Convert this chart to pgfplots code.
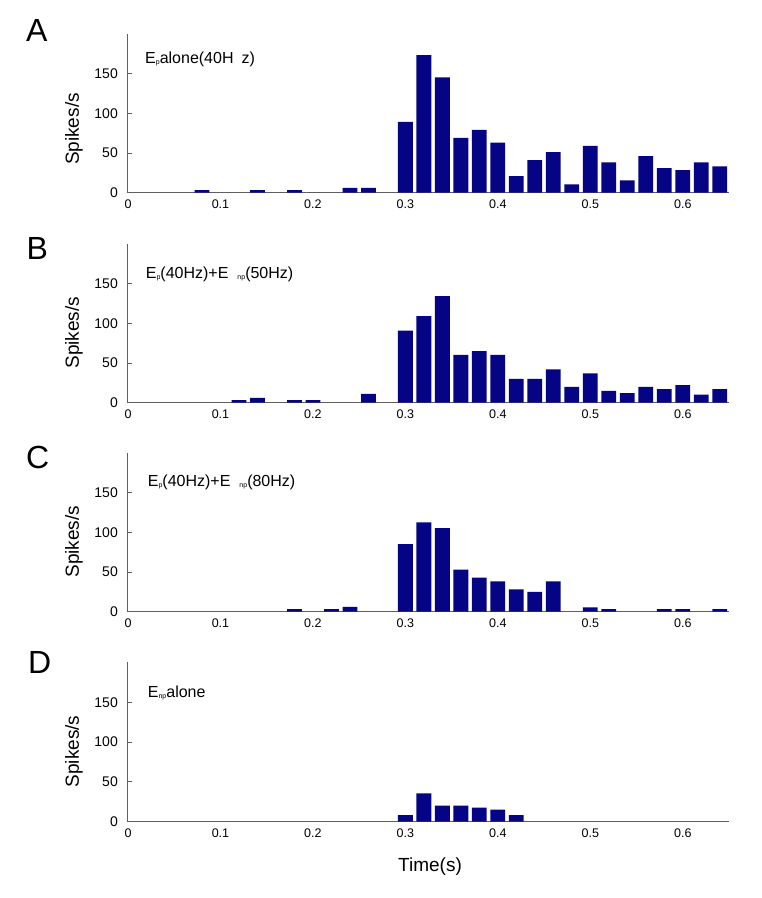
\documentclass[border=0pt]{standalone}
\usepackage{pgfplots}
\pgfplotsset{compat=1.18}
\usepackage{fontspec}
\setmainfont{Liberation Sans}

\definecolor{barblue}{RGB}{4,4,132}
\definecolor{axgray}{RGB}{95,95,95}

\pgfplotsset{
  panel/.style 2 args={
    at={(128pt,#1)}, anchor=south west,
    scale only axis, width=601pt, height=159pt,
    xmin=0, xmax=0.65, ymin=0, ymax=200,
    axis lines*=left,
    axis line style={axgray, line width=1pt},
    xtick={0,0.1,0.2,0.3,0.4,0.5,0.6},
    xticklabels={0,0.1,0.2,0.3,0.4,0.5,0.6},
    ytick={0,50,100,150},
    yticklabels={0,50,100,150},
    /pgf/number format/assume math mode=true,
    tick align=inside, major tick length=4pt,
    ytick style={axgray, line width=0.8pt},
    xtick style={draw=none},
    xticklabel style={font=\fontsize{12.5}{12.5}\selectfont, anchor=center, inner sep=0pt, yshift=-11.5pt},
    yticklabel style={font=\fontsize{14}{14}\selectfont, anchor=east, inner sep=0pt, xshift=-10pt},
    ylabel={Spikes/s},
    ylabel style={at={(axis description cs:-0.09,#2)}, anchor=center, inner sep=0pt,
      font=\fontsize{19}{19}\selectfont},
  },
  bars/.style={ybar, bar width=0.016, fill=barblue, draw=none},
}

\newcommand{\sub}[1]{\raisebox{-1.2pt}{\fontsize{7}{7}\selectfont #1}}

\begin{document}
\begin{tikzpicture}
\path[use as bounding box] (0,0) rectangle (762pt,898pt);

% A
\begin{axis}[panel={705.3pt}{0.40}]
\addplot[bars] coordinates {(0.08,3.3) (0.14,3.3) (0.18,3.3) (0.24,6) (0.26,6)
 (0.30,89) (0.32,173) (0.34,145) (0.36,69) (0.38,79) (0.40,63) (0.42,21) (0.44,41)
 (0.46,51) (0.48,10.5) (0.50,59) (0.52,38) (0.54,15.5) (0.56,46) (0.58,31)
 (0.60,28.5) (0.62,38) (0.64,33)};
\end{axis}

% B
\begin{axis}[panel={495.3pt}{0.44}]
\addplot[bars] coordinates {(0.12,3.3) (0.14,6) (0.18,3.3) (0.20,3.3) (0.26,11)
 (0.30,90.5) (0.32,109) (0.34,134) (0.36,60) (0.38,65) (0.40,60) (0.42,30) (0.44,30)
 (0.46,42) (0.48,20) (0.50,37) (0.52,15) (0.54,12) (0.56,20) (0.58,17) (0.60,22)
 (0.62,10) (0.64,17)};
\end{axis}

% C
\begin{axis}[panel={286.3pt}{0.44}]
\addplot[bars] coordinates {(0.18,3.3) (0.22,3.3) (0.24,6)
 (0.30,85) (0.32,112.5) (0.34,105) (0.36,53) (0.38,43) (0.40,38) (0.42,28) (0.44,25)
 (0.46,38) (0.50,5.5) (0.52,3.3) (0.58,3.3) (0.60,3.3) (0.64,3.3)};
\end{axis}

% D
\begin{axis}[panel={76.5pt}{0.44}]
\addplot[bars] coordinates {(0.30,8) (0.32,35.5) (0.34,20) (0.36,20) (0.38,17.5)
 (0.40,15) (0.42,8)};
\end{axis}

% panel letters
\node[anchor=base west, inner sep=0pt, font=\fontsize{32}{32}\selectfont] at (26pt,856.3pt) {A};
\node[anchor=base west, inner sep=0pt, font=\fontsize{32}{32}\selectfont] at (26.5pt,638.7pt) {B};
\node[anchor=base west, inner sep=0pt, font=\fontsize{32}{32}\selectfont] at (26pt,429.5pt) {C};
\node[anchor=base west, inner sep=0pt, font=\fontsize{32}{32}\selectfont] at (28pt,224.7pt) {D};

% panel titles
\node[anchor=base west, inner sep=0pt, font=\fontsize{16}{16}\selectfont] at (145pt,834.7pt)
  {E\sub{p}alone(40H\hspace{8pt}z)};
\node[anchor=base west, inner sep=0pt, font=\fontsize{16}{16}\selectfont] at (145.7pt,619.7pt)
  {E\sub{p}(40Hz)+E\hspace{9pt}\sub{np}(50Hz)};
\node[anchor=base west, inner sep=0pt, font=\fontsize{16}{16}\selectfont] at (147.7pt,411.3pt)
  {E\sub{p}(40Hz)+E\hspace{9pt}\sub{np}(80Hz)};
\node[anchor=base west, inner sep=0pt, font=\fontsize{16}{16}\selectfont] at (147.7pt,200.7pt)
  {E\sub{np}alone};

% x label
\node[anchor=base, inner sep=0pt, font=\fontsize{19}{19}\selectfont] at (430pt,26.3pt) {Time(s)};
\end{tikzpicture}
\end{document}
